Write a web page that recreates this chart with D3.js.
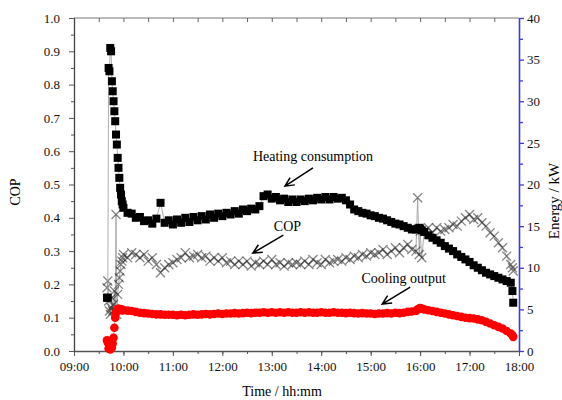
<!DOCTYPE html>
<html>
<head>
<meta charset="utf-8">
<script src="https://cdn.jsdelivr.net/npm/d3@7"></script>
<style>
  body { margin: 0; background: #fff; }
  text { font-family: "Liberation Serif", "Times New Roman", serif; }
</style>
</head>
<body>
<svg id="chart" width="562" height="400"></svg>
<script>

// sample times (per minute at start-up, then every 5 min)
var times = [
  "09:40","09:41","09:42","09:43","09:44","09:45","09:46","09:47","09:48","09:49",
  "09:50","09:51","09:52","09:53","09:54","09:55","09:56","09:57","09:58","09:59",
  "10:00","10:05","10:10","10:15","10:20","10:25","10:30","10:35","10:40","10:45","10:50","10:55",
  "11:00","11:05","11:10","11:15","11:20","11:25","11:30","11:35","11:40","11:45","11:50","11:55",
  "12:00","12:05","12:10","12:15","12:20","12:25","12:30","12:35","12:40","12:45","12:50","12:55",
  "13:00","13:05","13:10","13:15","13:20","13:25","13:30","13:35","13:40","13:45","13:50","13:55",
  "14:00","14:05","14:10","14:15","14:20","14:25","14:30","14:35","14:40","14:45","14:50","14:55",
  "15:00","15:05","15:10","15:15","15:20","15:25","15:30","15:35","15:40","15:45","15:50","15:55",
  "15:57","15:59","16:00","16:02",
  "16:05","16:10","16:15","16:20","16:25","16:30","16:35","16:40","16:45","16:50","16:55",
  "17:00","17:05","17:10","17:15","17:20","17:25","17:30","17:35","17:40","17:45","17:50",
  "17:52","17:53"
];

// heating consumption, kW (right axis)
var heating = [
  6.4, 6.4, 34.0, 33.6, 36.4, 36.0, 32.4, 31.2, 30.0, 28.8,
  27.6, 26.0, 24.8, 23.2, 22.0, 20.8, 19.6, 18.8, 18.0, 17.6,
  17.2, 16.6, 16.5, 16.0, 16.1, 15.6, 15.7, 15.3, 15.9, 17.8, 15.4, 15.7,
  15.2, 15.8, 15.4, 16.0, 15.5, 16.1, 15.7, 16.2, 15.8, 16.4, 16.0, 16.5,
  16.2, 16.6, 16.4, 16.8, 16.5, 17.0, 16.8, 17.1, 17.0, 17.4, 18.6, 18.8,
  18.3, 18.5, 18.1, 18.3, 17.9, 18.2, 17.9, 18.2, 18.0, 18.3, 18.1, 18.4,
  18.2, 18.5, 18.2, 18.5, 18.3, 18.4, 18.1, 17.6, 17.0, 16.8, 16.6, 16.5,
  16.3, 16.2, 16.0, 15.9, 15.7, 15.5, 15.3, 15.2, 15.0, 14.8, 14.6, 14.6,
  14.7, 14.8, 14.7, 14.5,
  14.3, 13.9, 13.6, 13.3, 13.0, 12.6, 12.3, 12.0, 11.6, 11.3, 11.0,
  10.7, 10.3, 10.0, 9.7, 9.4, 9.2, 9.0, 8.8, 8.6, 8.4, 8.2,
  7.2, 5.8
];

// COP (left axis)
var cop = [
  0.19, 0.21, 0.15, 0.12, 0.11, 0.13, 0.16, 0.12, 0.14, 0.18,
  0.12, 0.41, 0.11, 0.17, 0.20, 0.22, 0.24, 0.26, 0.27, 0.28,
  0.29, 0.28, 0.295, 0.29, 0.28, 0.29, 0.27, 0.28, 0.26, 0.235, 0.25, 0.26,
  0.265, 0.275, 0.28, 0.295, 0.28, 0.285, 0.29, 0.28, 0.285, 0.27, 0.28, 0.27,
  0.28, 0.265, 0.27, 0.26, 0.27, 0.26, 0.27, 0.255, 0.265, 0.26, 0.27, 0.26,
  0.275, 0.26, 0.265, 0.255, 0.265, 0.26, 0.265, 0.26, 0.27, 0.26, 0.275, 0.265,
  0.26, 0.275, 0.265, 0.27, 0.275, 0.27, 0.28, 0.275, 0.285, 0.28, 0.29, 0.285,
  0.295, 0.29, 0.295, 0.305, 0.29, 0.30, 0.31, 0.295, 0.31, 0.32, 0.305, 0.30,
  0.46, 0.29, 0.36, 0.28,
  0.36, 0.37, 0.355, 0.37, 0.36, 0.365, 0.37, 0.38, 0.375, 0.39, 0.40,
  0.41, 0.395, 0.40, 0.385, 0.375, 0.355, 0.345, 0.325, 0.31, 0.285, 0.26,
  0.25, 0.24
];

// cooling output, kW (right axis)
var cooling = [
  1.3, 1.0, 0.3, 0.6, 0.2, 0.8, 0.4, 0.9, 1.6, 2.8,
  4.0, 4.6, 4.9, 5.0, 5.1, 5.0, 5.0, 4.9, 5.0, 4.9,
  4.9, 4.85, 4.8, 4.7, 4.6, 4.55, 4.5, 4.45, 4.4, 4.4, 4.35, 4.35,
  4.35, 4.3, 4.35, 4.3, 4.35, 4.4, 4.35, 4.4, 4.45, 4.4, 4.45, 4.5,
  4.45, 4.5, 4.5, 4.55, 4.5, 4.55, 4.6, 4.55, 4.6, 4.6, 4.65, 4.6,
  4.65, 4.6, 4.65, 4.6, 4.65, 4.6, 4.6, 4.65, 4.6, 4.65, 4.6, 4.6,
  4.65, 4.6, 4.6, 4.65, 4.6, 4.6, 4.55, 4.6, 4.55, 4.5, 4.55, 4.5,
  4.5, 4.45, 4.5, 4.5, 4.55, 4.5, 4.6, 4.55, 4.6, 4.7, 4.75, 4.8,
  5.0, 5.1, 5.15, 5.1,
  5.0, 4.9, 4.8, 4.7, 4.6, 4.5, 4.4, 4.3, 4.2, 4.1, 4.0,
  3.95, 3.9, 3.8, 3.7, 3.5, 3.3, 3.1, 2.9, 2.7, 2.4, 2.1,
  1.9, 1.7
];

var xTicks = ["09:00","10:00","11:00","12:00","13:00","14:00","15:00","16:00","17:00","18:00"];
var copTicks = [0, 0.1, 0.2, 0.3, 0.4, 0.5, 0.6, 0.7, 0.8, 0.9, 1.0];
var energyTicks = [0, 5, 10, 15, 20, 25, 30, 35, 40];

// annotation labels: text position and arrow, in time / COP units
var notes = [
  {label: "Heating consumption", t: "13:50", v: 0.57, from: ["13:50", 0.55], to: ["13:16", 0.495]},
  {label: "COP", t: "13:19", v: 0.36, from: ["13:14", 0.348], to: ["12:37", 0.294]},
  {label: "Cooling output", t: "15:40", v: 0.204, from: ["15:48", 0.192], to: ["15:14", 0.141]}
];

var svg = d3.select("#chart"),
    margin = {top: 18, right: 43, bottom: 49, left: 74},
    width = +svg.attr("width") - margin.left - margin.right,
    height = +svg.attr("height") - margin.top - margin.bottom;

var parseT = d3.timeParse("%H:%M");

var x = d3.scaleTime()
    .domain([parseT("09:00"), parseT("18:00")])
    .range([margin.left, margin.left + width]);

var yL = d3.scaleLinear()
    .domain([0, 1])
    .range([margin.top + height, margin.top]);

var yR = d3.scaleLinear()
    .domain([0, 40])
    .range([margin.top + height, margin.top]);

var rows = times.map(function(t, i) {
  return {t: parseT(t), heat: heating[i], cop: cop[i], cool: cooling[i]};
});

var blue = "#3c3cdc";
var serif = '"Liberation Serif", "Times New Roman", serif';

// frame top
svg.append("line")
    .attr("x1", x.range()[0]).attr("x2", x.range()[1])
    .attr("y1", margin.top).attr("y2", margin.top)
    .attr("stroke", "#777").attr("stroke-width", 1.2);

var halfHours = d3.timeMinute.every(30).range(parseT("09:00"), parseT("18:01"));

// top minor ticks (inward)
svg.append("g")
    .attr("transform", "translate(0," + margin.top + ")")
    .call(d3.axisBottom(x).tickValues(halfHours).tickSize(4).tickFormat(""))
    .call(function(g) { g.select(".domain").remove(); g.selectAll("line").attr("stroke", "#666"); });

// bottom axis
svg.append("g")
    .attr("transform", "translate(0," + (margin.top + height) + ")")
    .call(d3.axisBottom(x).tickValues(halfHours).tickSize(3).tickFormat(""))
    .call(function(g) { g.select(".domain").remove(); g.selectAll("line").attr("stroke", "#555"); });

svg.append("g")
    .attr("transform", "translate(0," + (margin.top + height) + ")")
    .call(d3.axisBottom(x).tickValues(xTicks.map(parseT)).tickFormat(d3.timeFormat("%H:%M"))
      .tickSize(5).tickSizeOuter(0).tickPadding(6))
    .call(function(g) {
      g.select(".domain").attr("stroke", "#555").attr("stroke-width", 1.3);
      g.selectAll("line").attr("stroke", "#555");
      g.selectAll("text").attr("font-size", 13).attr("fill", "#111").style("font-family", serif);
    });

// left axis
var copMinor = copTicks.slice(0, -1).map(function(d) { return d + 0.05; });
svg.append("g")
    .attr("transform", "translate(" + margin.left + ",0)")
    .call(d3.axisLeft(yL).tickValues(copMinor).tickSize(3).tickFormat(""))
    .call(function(g) { g.select(".domain").remove(); g.selectAll("line").attr("stroke", "#555"); });

svg.append("g")
    .attr("transform", "translate(" + margin.left + ",0)")
    .call(d3.axisLeft(yL).tickValues(copTicks).tickFormat(d3.format(".1f"))
      .tickSize(5).tickSizeOuter(0).tickPadding(9))
    .call(function(g) {
      g.select(".domain").attr("stroke", "#444").attr("stroke-width", 1.3);
      g.selectAll("line").attr("stroke", "#555");
      g.selectAll("text").attr("font-size", 13).attr("fill", "#111").style("font-family", serif);
    });

// right axis (blue)
var energyMinor = energyTicks.slice(0, -1).map(function(d) { return d + 2.5; });
svg.append("g")
    .attr("transform", "translate(" + (margin.left + width) + ",0)")
    .call(d3.axisRight(yR).tickValues(energyMinor).tickSize(4).tickFormat(""))
    .call(function(g) { g.select(".domain").remove(); g.selectAll("line").attr("stroke", blue).attr("stroke-width", 1.3); });

svg.append("g")
    .attr("transform", "translate(" + (margin.left + width) + ",0)")
    .call(d3.axisRight(yR).tickValues(energyTicks).tickSize(5).tickSizeOuter(0).tickPadding(3))
    .call(function(g) {
      g.select(".domain").attr("stroke", blue).attr("stroke-width", 1.6);
      g.selectAll("line").attr("stroke", blue).attr("stroke-width", 1.3);
      g.selectAll("text").attr("font-size", 13).attr("fill", "#111").style("font-family", serif);
    });

// axis titles
svg.append("text")
    .attr("transform", "translate(20,192) rotate(-90)")
    .attr("text-anchor", "middle").attr("font-size", 14)
    .text("COP");

svg.append("text")
    .attr("transform", "translate(559,201) rotate(-90)")
    .attr("text-anchor", "middle").attr("font-size", 15)
    .text("Energy / kW");

svg.append("text")
    .attr("x", 282).attr("y", 396)
    .attr("text-anchor", "middle").attr("font-size", 14)
    .text("Time / hh:mm");

// series
var plot = svg.append("g");

function thinLine(key, scale) {
  return d3.line()
    .x(function(d) { return x(d.t); })
    .y(function(d) { return scale(d[key]); });
}

// COP: thin line + crosses
plot.append("path")
    .datum(rows)
    .attr("fill", "none").attr("stroke", "#999").attr("stroke-width", 0.8)
    .attr("d", thinLine("cop", yL));

plot.append("g").selectAll("path")
    .data(rows)
  .enter().append("path")
    .attr("transform", function(d) { return "translate(" + x(d.t) + "," + yL(d.cop) + ")"; })
    .attr("d", "M-4.5,-4.5L4.5,4.5M-4.5,4.5L4.5,-4.5")
    .attr("fill", "none").attr("stroke", "#222").attr("stroke-opacity", 0.55).attr("stroke-width", 1.3);

// heating: thin line + squares
plot.append("path")
    .datum(rows)
    .attr("fill", "none").attr("stroke", "#999").attr("stroke-width", 0.8)
    .attr("d", thinLine("heat", yR));

plot.append("g").selectAll("rect")
    .data(rows)
  .enter().append("rect")
    .attr("x", function(d) { return x(d.t) - 4; })
    .attr("y", function(d) { return yR(d.heat) - 4; })
    .attr("width", 8).attr("height", 8)
    .attr("fill", "#000");

// cooling: thin line + red dots
plot.append("path")
    .datum(rows)
    .attr("fill", "none").attr("stroke", "#999").attr("stroke-width", 0.8)
    .attr("d", thinLine("cool", yR));

plot.append("g").selectAll("circle")
    .data(rows)
  .enter().append("circle")
    .attr("cx", function(d) { return x(d.t); })
    .attr("cy", function(d) { return yR(d.cool); })
    .attr("r", 4.3)
    .attr("fill", "#f00");

// annotations
var ann = svg.append("g");
notes.forEach(function(n) {
  ann.append("text")
      .attr("x", x(parseT(n.t))).attr("y", yL(n.v))
      .attr("text-anchor", "middle").attr("font-size", 14)
      .text(n.label);

  var x1 = x(parseT(n.from[0])), y1 = yL(n.from[1]),
      x2 = x(parseT(n.to[0])), y2 = yL(n.to[1]);
  var a = Math.atan2(y1 - y2, x1 - x2), L = 10, w = 0.45;
  ann.append("path")
      .attr("d", "M" + x1 + "," + y1 + "L" + x2 + "," + y2 +
        "M" + (x2 + L * Math.cos(a + w)) + "," + (y2 + L * Math.sin(a + w)) +
        "L" + x2 + "," + y2 +
        "L" + (x2 + L * Math.cos(a - w)) + "," + (y2 + L * Math.sin(a - w)))
      .attr("fill", "none").attr("stroke", "#000").attr("stroke-width", 1.5);
});

</script>
</body>
</html>
